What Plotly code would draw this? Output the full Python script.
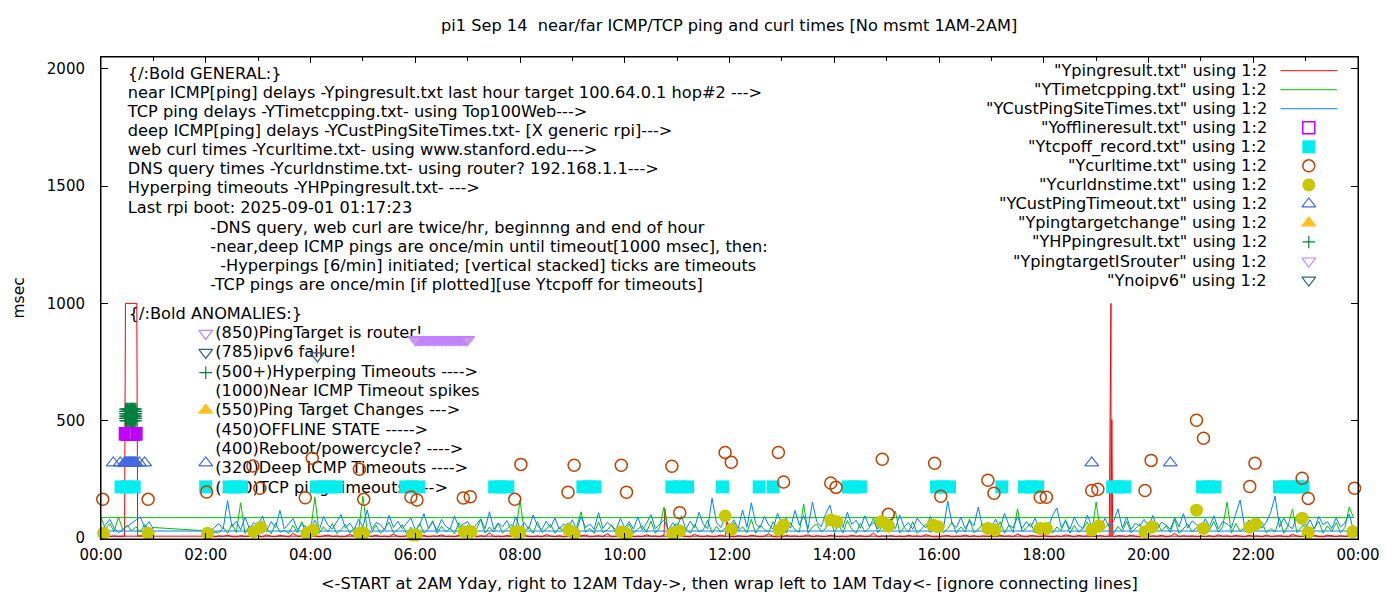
import plotly.graph_objects as go
import pandas as pd

# frame of the reference canvas, in page pixels; the page body adds an 8px margin
OFF = 8
W, H = 1400 - 2 * OFF, 600 - 2 * OFF
PL, PR, PT, PB = 101, 1366, 57, 539
XR = [0, 24]
YR = [-4, 2050]
FONT = "DejaVu Sans"
FS = 16.2


def px_x(px):
    return XR[0] + (px - PL) / (PR - PL) * (XR[1] - XR[0])


def px_y(py):
    return YR[0] + (PB - py) / (PB - PT) * (YR[1] - YR[0])


def pap_x(px):
    return (px - PL) / (PR - PL)


def pap_y(py):
    return (PB - py) / (PB - PT)


def hrs(t):
    h, m = t.split(":")
    return int(h) + int(m) / 60


# sample grid, file order: 2AM yday -> midnight, then midnight -> 1AM today
grid = [f"{h:02d}:{m:02d}" for h in range(2, 24) for m in range(0, 60, 5)]
grid += [f"00:{m:02d}" for m in range(0, 60, 5)] + ["01:00"]

# near ICMP ping (Ypingresult.txt), msec
near_ms = [
    6, 8, 5, 9, 7, 12, 6, 5, 10, 7, 8, 6,
    9, 5, 14, 7, 6, 11, 8, 5, 20, 7, 9, 6,
    7, 10, 5, 8, 13, 6, 9, 5, 7, 16, 6, 8,
    5, 9, 7, 12, 6, 8, 5, 18, 7, 6, 10, 5,
    8, 6, 11, 5, 9, 7, 14, 6, 8, 5, 12, 7,
    6, 9, 5, 10, 7, 22, 6, 8, 5, 11, 7, 9,
    5, 12, 7, 6, 9, 5, 15, 8, 6, 10, 5, 7,
    9, 6, 8, 13, 5, 7, 10, 6, 19, 5, 8, 6,
    7, 11, 5, 8, 6, 14, 7, 9, 5, 12, 6, 8,
    6, 9, 7, 5, 16, 8, 6, 10, 5, 7, 13, 6,
    8, 5, 10, 7, 6, 12, 9, 5, 8, 18, 6, 7,
    5, 11, 7, 9, 6, 8, 14, 5, 10, 7, 6, 12,
    9, 6, 8, 5, 13, 7, 10, 6, 8, 21, 5, 9,
    7, 10, 6, 8, 5, 12, 7, 9, 6, 15, 8, 5,
    6, 9, 11, 5, 8, 7, 13, 6, 10, 5, 9, 7,
    8, 5, 12, 7, 9, 6, 17, 8, 5, 11, 7, 6,
    10, 7, 5, 9, 6, 14, 8, 5, 12, 7, 9, 6,
    7, 11, 6, 8, 5, 10, 9, 6, 13, 7, 5, 8,
    6, 9, 7, 12, 5, 8, 20, 6, 10, 7, 9, 5,
    8, 6, 10, 5, 14, 7, 9, 6, 11, 8, 5, 12,
    7, 9, 5, 13, 6, 8, 10, 7, 5, 16, 9, 6,
    9, 6, 11, 7, 5, 12, 8, 6, 10, 7, 9, 8,
    8, 10, 6, 9, 7, 8, 1000, 1000, 1000, 10, 7, 9, 6,
]
near_extra = [
    ("00:27", 8), ("00:28", 1000), ("00:41", 1000), ("00:42", 8),
    ("10:46", 124), ("11:57", 70),
    ("19:17", 1000), ("19:17", 6), ("19:18", 505), ("19:19", 7),
]

# TCP ping (YTimetcpping.txt), msec
tcp_ms = [
    30, 28, 26, 22, 45, 20, 60, 24, 150, 19, 52, 23,
    35, 21, 40, 18, 64, 25, 33, 20, 55, 22, 70, 19,
    24, 175, 20, 48, 26, 62, 19, 36, 58, 21, 44, 27,
    179, 30, 23, 55, 20, 40, 68, 22, 35, 57, 19, 46,
    25, 62, 21, 38, 74, 20, 50, 27, 43, 19, 66, 24,
    55, 22, 36, 80, 20, 47, 25, 63, 21, 39, 58, 23,
    162, 26, 48, 20, 70, 24, 37, 59, 21, 44, 28, 65,
    22, 50, 112, 25, 41, 20, 68, 23, 35, 56, 19, 45,
    26, 60, 21, 39, 52, 24, 72, 20, 45, 132, 23, 48,
    62, 24, 40, 20, 58, 27, 35, 76, 22, 50, 25, 44,
    21, 66, 30, 48, 23, 80, 20, 55, 36, 24, 70, 28,
    52, 22, 64, 35, 25, 145, 21, 47, 60, 26, 40, 90,
    24, 56, 22, 75, 38, 20, 63, 27, 44, 86, 23, 50,
    30, 62, 115, 21, 46, 25, 70, 20, 38, 58, 24, 42,
    55, 22, 40, 67, 20, 48, 26, 80, 23, 36, 61, 21,
    45, 26, 70, 20, 55, 24, 125, 28, 42, 63, 22, 50,
    24, 66, 21, 47, 32, 78, 20, 54, 25, 40, 69, 23,
    153, 25, 44, 62, 20, 50, 28, 72, 22, 39, 58, 24,
    47, 21, 65, 30, 52, 24, 80, 20, 41, 60, 26, 45,
    22, 58, 36, 70, 25, 48, 153, 21, 62, 29, 44, 75,
    24, 50, 68, 22, 40, 26, 85, 20, 54, 124, 23, 46,
    60, 25, 42, 72, 21, 52, 28, 66, 22, 45, 132, 87,
    87, 40, 62, 28, 90, 35, 55, 30, 48, 25, 58, 36, 45,
]
tcp_extra = [("01:55", 32)]

# deep ICMP ping (YCustPingSiteTimes.txt), msec; None = timed out
deep_ms = [
    30, 30, 45, 62, 38, 160, 48, 72, 35, 88, 41, 66,
    52, 95, 34, 70, 44, 118, 39, 61, 83, 36, 58, 47,
    40, 76, 33, 92, 55, 38, 68, 100, 42, 64, 35, 80,
    47, 120, 37, 66, 58, 34, 97, 45, 72, 40, 62, 86,
    36, 55, 104, 41, 68, 33, 79, 50, 38, 93, 44, 60,
    70, 35, 58, 82, 40, 112, 37, 64, 48, 75, 34, 90,
    42, 66, 38, 98, 52, 36, 72, 44, 85, 39, 61, 47,
    78, 34, 92, 45, 60, 37, 108, 41, 67, 50, 36, 83,
    44, 70, 38, 90, 35, 63, 100, 40, 57, 78, 36, 65,
    48, 95, 37, 72, 43, 110, 58, 39, 170, 66, 45, 88,
    52, 78, 40, 120, 46, 150, 62, 44, 92, 55, 38, 105,
    60, 85, 42, 118, 55, 96, 40, 153, 70, 48, 102, 140,
    64, 88, 45, 110, 58, 76, 42, 95, 50, 68, 39, 82,
    55, 72, 40, 98, 48, 66, 37, 85, 60, 44, 92, 52,
    70, 38, 158, 60, 45, 88, 40, 74, 52, 132, 43, 66,
    48, 80, 37, 105, 56, 42, 92, 40, 70, 46, 84, 38,
    62, 40, 95, 128, 45, 72, 38, 88, 54, 41, 98, 50,
    66, 39, 84, 47, 71, 124, 42, 90, 36, 63, 52, 80,
    45, 96, 40, 68, 55, 37, 86, 48, 104, 42, 73, 58,
    40, 82, 50, 95, 38, 70, 60, 44, 100, 162, 48, 76,
    56, 90, 42, 68, 110, 179, 46, 84, 52, 40, 96, 62,
    44, 78, 38, 92, 57, 70, 41, 86, 48, 64, 102, 30,
    30, 55, 80, 42, 23, None, None, None, None, 90, 45, 70, 38,
]

# minutes of the 00:28-00:40 outage
outage_min = ["00:28", "00:29", "00:30", "00:31", "00:32", "00:33", "00:34",
              "00:35", "00:36", "00:37", "00:38", "00:39", "00:40"]

offline_t = outage_min
offline_ms = [445] * len(offline_t)

tcpoff_t = ["00:23", "00:30", "00:38", "02:00", "02:27", "02:34", "02:41",
            "04:07", "04:15", "04:22", "04:30", "05:49", "05:56", "06:04",
            "07:31", "07:38", "07:46", "09:12", "09:19", "09:26",
            "10:54", "11:03", "11:12", "11:52", "12:34", "12:50",
            "14:16", "14:23", "14:30", "15:57", "16:04", "16:12", "17:12",
            "17:38", "17:46", "17:53", "19:19", "19:26", "19:33",
            "21:02", "21:09", "21:16", "22:30", "22:37", "22:44", "22:51", "22:57"]
tcpoff_ms = [218] * len(tcpoff_t)

curl_t = ["00:02", "00:54", "02:01", "02:54", "03:02", "03:54", "04:02", "04:56",
          "05:01", "05:55", "06:02", "06:55", "07:03", "07:54", "08:01", "08:55",
          "09:02", "09:56", "10:02", "10:54", "11:03", "11:55", "12:02", "12:56",
          "13:02", "13:56", "14:02", "14:55", "15:02", "15:55", "16:02", "16:56",
          "17:03", "17:56", "18:03", "18:55", "19:02", "19:56", "20:03", "20:55",
          "21:03", "21:56", "22:02", "22:56", "23:03", "23:56"]
curl_ms = [165, 165, 196, 307, 212, 172, 340, 293, 165, 175, 162, 171, 176, 165,
           314, 195, 310, 310, 195, 306, 108, 365, 323, 365, 239, 235, 216, 336,
           101, 319, 178, 246, 191, 174, 174, 203, 208, 203, 331, 502, 425, 220,
           319, 255, 169, 212]

dns_t = ["00:03", "00:54", "02:02", "02:55", "03:03", "03:56", "04:03", "04:56",
         "05:01", "05:57", "06:01", "06:56", "07:04", "07:55", "08:00", "08:56",
         "09:02", "09:56", "10:02", "10:55", "11:03", "11:55", "12:02", "12:57",
         "13:02", "13:56", "14:03", "14:54", "15:02", "15:53", "15:59", "16:56",
         "17:04", "17:56", "18:03", "18:55", "19:03", "19:56", "20:04", "20:55",
         "21:03", "21:56", "22:03", "22:56", "23:03", "23:54"]
dns_ms = [20, 20, 20, 27, 46, 20, 34, 21, 21, 13, 13, 27, 27, 27, 24, 34,
          20, 27, 17, 20, 30, 94, 37, 34, 55, 77, 70, 70, 51, 55, 48, 41,
          34, 41, 41, 34, 51, 27, 48, 119, 41, 46, 60, 84, 24, 27]

deepto_t = ["00:14", "00:22", "00:27"] + outage_min + ["00:44", "00:50", "02:00", "18:55", "20:25"]
deepto_ms = [320] * len(deepto_t)

tchange_t = ["02:00"]
tchange_ms = [545]

hp_t = ["02:00"]
hp_ms = [705]
hp_levels = [500, 510, 520, 530, 540, 550]
for t in outage_min:
    for v in hp_levels:
        hp_t.append(t)
        hp_ms.append(v)

router_t = ["02:00", "06:00", "06:02", "06:04", "06:06", "06:08", "06:10", "06:12",
            "06:14", "06:16", "06:18", "06:20", "06:22", "06:24", "06:26", "06:28",
            "06:30", "06:32", "06:34", "06:36", "06:38", "06:40", "06:42", "06:44",
            "06:46", "06:48", "06:50", "06:52", "06:54", "06:56", "06:58", "07:00"]
router_ms = [872] + [846] * (len(router_t) - 1)

noipv6_t = ["02:00", "04:08"]
noipv6_ms = [791, 776]


def line_frame(vals, extra=()):
    df = pd.DataFrame({"t": grid, "v": vals})
    if extra:
        df = pd.concat([df, pd.DataFrame(list(extra), columns=["t", "v"])], ignore_index=True)
    df["h"] = df["t"].map(hrs)
    df["order"] = (df["h"] - 2) % 24
    df = df.dropna().sort_values("order", kind="stable")
    return df


# text blocks: (x px, y px, text)
notes = [
    (129, 75, "{/:Bold GENERAL:}"),
    (129, 94, "near ICMP[ping] delays -Ypingresult.txt last hour target 100.64.0.1 hop#2 --->"),
    (129, 113, "TCP ping delays -YTimetcpping.txt- using Top100Web--->"),
    (129, 132, "deep ICMP[ping] delays -YCustPingSiteTimes.txt- [X generic rpi]--->"),
    (129, 151, "web curl times -Ycurltime.txt- using www.stanford.edu--->"),
    (129, 170, "DNS query times -Ycurldnstime.txt- using router? 192.168.1.1--->"),
    (129, 189, "Hyperping timeouts -YHPpingresult.txt- --->"),
    (129, 209, "Last rpi boot: 2025-09-01 01:17:23"),
    (212, 229, "-DNS query, web curl are twice/hr, beginnng and end of hour"),
    (212, 248, "-near,deep ICMP pings are once/min until timeout[1000 msec], then:"),
    (222, 267, "-Hyperpings [6/min] initiated; [vertical stacked] ticks are timeouts"),
    (212, 286, "-TCP pings are once/min [if plotted][use Ytcpoff for timeouts]"),
    (130, 315, "{/:Bold ANOMALIES:}"),
    (217, 334, "(850)PingTarget is router!"),
    (217, 353, "(785)ipv6 failure!"),
    (217, 373, "(500+)Hyperping Timeouts ---->"),
    (217, 392, "(1000)Near ICMP Timeout spikes"),
    (217, 411, "(550)Ping Target Changes --->"),
    (217, 431, "(450)OFFLINE STATE ----->"),
    (217, 450, "(400)Reboot/powercycle? ---->"),
    (217, 469, "(320)Deep ICMP Timeouts ---->"),
    (217, 489, "(220)TCP ping timeouts ---->"),
]

fig = go.Figure()

fig.add_trace(go.Scatter(
    x=[px_x(n[0] - 1) for n in notes], y=[px_y(n[1]) for n in notes],
    text=[n[2] for n in notes], mode="text", textposition="middle right",
    textfont=dict(family=FONT, size=FS, color="black"),
    cliponaxis=False, showlegend=False, hoverinfo="skip"
))

lines = [
    ('"Ypingresult.txt" using 1:2', near_ms, near_extra, "#ff0000"),
    ('"YTimetcpping.txt" using 1:2', tcp_ms, tcp_extra, "#00c000"),
    ('"YCustPingSiteTimes.txt" using 1:2', deep_ms, (), "#0080ff"),
]
for name, vals, extra, col in lines:
    d = line_frame(vals, extra)
    fig.add_trace(go.Scatter(x=d["h"], y=d["v"], mode="lines", name=name,
                             line=dict(color=col, width=1), showlegend=False))

points = [
    ('"Yofflineresult.txt" using 1:2', offline_t, offline_ms, "square-open", "#c000ff", 12, 1.5),
    ('"Ytcpoff_record.txt" using 1:2', tcpoff_t, tcpoff_ms, "square", "#00eeee", 13, 0),
    ('"Ycurltime.txt" using 1:2', curl_t, curl_ms, "circle-open", "#c04000", 12, 1.5),
    ('"Ycurldnstime.txt" using 1:2', dns_t, dns_ms, "circle", "#c8c800", 13, 0),
    ('"YCustPingTimeout.txt" using 1:2', deepto_t, deepto_ms, "triangle-up-open", "#4169e1", 12, 1.2),
    ('"Ypingtargetchange" using 1:2', tchange_t, tchange_ms, "triangle-up", "#ffc020", 14, 0),
    ('"YHPpingresult.txt" using 1:2', hp_t, hp_ms, "cross-thin-open", "#008040", 9, 1.2),
    ('"YpingtargetISrouter" using 1:2', router_t, router_ms, "triangle-down-open", "#c080ff", 12, 1.2),
    ('"Ynoipv6" using 1:2', noipv6_t, noipv6_ms, "triangle-down-open", "#306080", 12, 1.2),
]
for name, ts, vs, sym, col, sz, lw in points:
    fig.add_trace(go.Scatter(
        x=[hrs(t) for t in ts], y=vs, mode="markers", name=name,
        marker=dict(symbol=sym, color=col, size=sz, line=dict(color=col, width=lw)),
        showlegend=False, cliponaxis=False
    ))

# gnuplot style key, top right: text right aligned, sample to the right
KEY_TEXT_X, KEY_S0, KEY_S1, KEY_Y0, KEY_DY = 1276, 1288, 1345, 70.7, 19.03
annotations = []
entries = [(n, "line", c) for n, _, _, c in lines] + [(p[0], "marker", p) for p in points]
for i, (name, kind, sty) in enumerate(entries):
    ky = KEY_Y0 + i * KEY_DY
    annotations.append(dict(xref="paper", yref="paper", x=pap_x(KEY_TEXT_X), y=pap_y(ky),
                            text=name, showarrow=False, xanchor="right", yanchor="middle",
                            font=dict(family=FONT, size=FS, color="black")))
    if kind == "line":
        fig.add_trace(go.Scatter(x=[px_x(KEY_S0), px_x(KEY_S1)], y=[px_y(ky)] * 2, mode="lines",
                                 line=dict(color=sty, width=1), showlegend=False,
                                 hoverinfo="skip", cliponaxis=False))
    else:
        _, _, _, sym, col, sz, lw = sty
        fig.add_trace(go.Scatter(x=[px_x((KEY_S0 + KEY_S1) / 2)], y=[px_y(ky)], mode="markers",
                                 marker=dict(symbol=sym, color=col, size=sz,
                                             line=dict(color=col, width=lw)),
                                 showlegend=False, hoverinfo="skip", cliponaxis=False))

# titles
annotations.append(dict(xref="paper", yref="paper", x=pap_x(733), y=pap_y(25),
                        text="pi1 Sep 14 &nbsp;near/far ICMP/TCP ping and curl times [No msmt 1AM-2AM]",
                        showarrow=False, xanchor="center", yanchor="middle",
                        font=dict(family=FONT, size=FS, color="black")))
annotations.append(dict(xref="paper", yref="paper", x=pap_x(733), y=pap_y(583),
                        text="&lt;-START at 2AM Yday, right to 12AM Tday-&gt;, then wrap left to 1AM Tday&lt;- [ignore connecting lines]",
                        showarrow=False, xanchor="center", yanchor="middle",
                        font=dict(family=FONT, size=FS, color="black")))
annotations.append(dict(xref="paper", yref="paper", x=pap_x(18), y=pap_y(298), text="msec",
                        textangle=-90, showarrow=False, xanchor="center", yanchor="middle",
                        font=dict(family=FONT, size=15.5, color="black")))

hour_ticks = list(range(0, 25, 2))
hour_labels = ["00:00", "02:00", "04:00", "06:00", "08:00", "10:00", "12:00",
               "14:00", "16:00", "18:00", "20:00", "22:00", "00:00"]

fig.update_layout(
    width=W, height=H,
    margin=dict(l=PL - OFF, r=W - (PR - OFF), t=PT - OFF, b=H - (PB - OFF), pad=0),
    paper_bgcolor="white", plot_bgcolor="white",
    showlegend=False,
    annotations=annotations,
    shapes=[dict(type="rect", xref="paper", yref="paper", x0=0, y0=0, x1=1, y1=1,
                 line=dict(color="black", width=1), layer="above")],
    xaxis=dict(range=XR, tickmode="array", tickvals=hour_ticks, ticktext=hour_labels,
               showgrid=False, zeroline=False, showline=True, linecolor="black", linewidth=1,
               mirror="ticks", ticks="inside", ticklen=6, tickcolor="black",
               ticklabelstandoff=2,
               minor=dict(tickmode="linear", tick0=0, dtick=1, ticks="inside", ticklen=4,
                          tickcolor="black", showgrid=False),
               tickfont=dict(family=FONT, size=15, color="black")),
    yaxis=dict(range=YR, tickmode="array", tickvals=[0, 500, 1000, 1500, 2000],
               showgrid=False, zeroline=False, showline=True, linecolor="black", linewidth=1,
               mirror="ticks", ticks="inside", ticklen=7, tickcolor="black",
               ticklabelstandoff=12,
               tickfont=dict(family=FONT, size=15, color="black")),
)

fig.write_html("out.html")
